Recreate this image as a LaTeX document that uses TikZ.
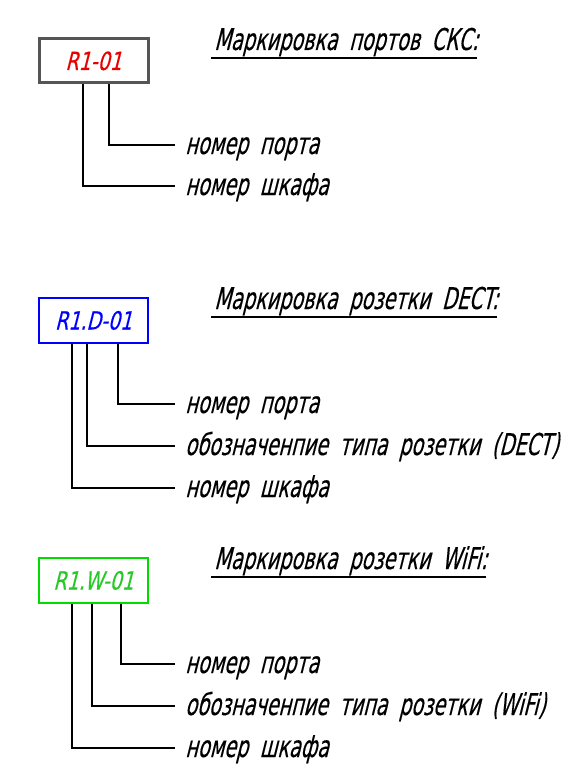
\documentclass[tikz,border=0pt]{standalone}
\usepackage{fontspec}
\setmainfont{DejaVu Sans}
\newfontfamily\gost{DejaVu Sans}[FakeStretch=0.64, FakeSlant=0.25, WordSpace=1.9, FakeBold=0.4]
\newfontfamily\gostbox{DejaVu Sans}[FakeStretch=0.76, FakeSlant=0.25, FakeBold=0.3]
\definecolor{boxgray}{RGB}{85,85,85}
\definecolor{mkred}{RGB}{230,0,0}
\definecolor{mkblue}{RGB}{0,0,255}
\definecolor{mkgreen}{RGB}{0,220,0}
\definecolor{mkgreentext}{RGB}{40,200,40}
\begin{document}
\begin{tikzpicture}[x=1pt,y=-1pt,
  markbox/.style={draw, rectangle, minimum width=109pt, minimum height=44pt, inner sep=0pt,
    text height=18pt, text depth=0pt, font=\fontsize{25}{25}\gostbox},
  lbl/.style={anchor=west, inner xsep=10pt, inner ysep=0pt, text height=18pt, text depth=0pt,
    font=\fontsize{30}{30}\gost},
  ttl/.style={anchor=base west, inner sep=0pt, font=\fontsize{30}{30}\gost},
  lead/.style={line width=2.2pt},
  uline/.style={line width=2.2pt}]
\useasboundingbox (0,0) rectangle (585,778);

% --- block 1
\node[ttl] (t1) at (214,50) {Маркировка портов СКС:};
\draw[uline] ([xshift=-3pt,yshift=-8pt]t1.base west) -- ([xshift=-1pt,yshift=-8pt]t1.base east);
\node[markbox, draw=boxgray, line width=3pt, text=mkred] (b1) at (93.5,61) {R1-01};
\node[lbl] (l1a) at (175,145) {номер порта};
\node[lbl] (l1b) at (175,186) {номер шкафа};
\draw[lead] ([xshift=15.5pt]b1.south) |- (l1a.west);
\draw[lead] ([xshift=-10.5pt]b1.south) |- (l1b.west);

% --- block 2
\node[ttl] (t2) at (214,309) {Маркировка розетки DECT:};
\draw[uline] ([xshift=-3pt,yshift=-8pt]t2.base west) -- ([xshift=-1pt,yshift=-8pt]t2.base east);
\node[markbox, draw=mkblue, line width=2.5pt, text=mkblue, minimum height=45pt] (b2) at (93.5,320.5) {R1.D-01};
\node[lbl] (l2a) at (175,404) {номер порта};
\node[lbl] (l2b) at (175,446) {обозначенпие типа розетки (DECT)};
\node[lbl] (l2c) at (175,488) {номер шкафа};
\draw[lead] ([xshift=24.5pt]b2.south) |- (l2a.west);
\draw[lead] ([xshift=-6.5pt]b2.south) |- (l2b.west);
\draw[lead] ([xshift=-21.5pt]b2.south) |- (l2c.west);

% --- block 3
\node[ttl] (t3) at (214,569) {Маркировка розетки WiFi:};
\draw[uline] ([xshift=-3pt,yshift=-8pt]t3.base west) -- ([xshift=-1pt,yshift=-8pt]t3.base east);
\node[markbox, draw=mkgreen, line width=2pt, text=mkgreentext, minimum height=45pt] (b3) at (93.5,580.5) {R1.W-01};
\node[lbl] (l3a) at (175,664) {номер порта};
\node[lbl] (l3b) at (175,706) {обозначенпие типа розетки (WiFi)};
\node[lbl] (l3c) at (175,748) {номер шкафа};
\draw[lead] ([xshift=27.5pt]b3.south) |- (l3a.west);
\draw[lead] ([xshift=-1.5pt]b3.south) |- (l3b.west);
\draw[lead] ([xshift=-21.5pt]b3.south) |- (l3c.west);
\end{tikzpicture}
\end{document}
